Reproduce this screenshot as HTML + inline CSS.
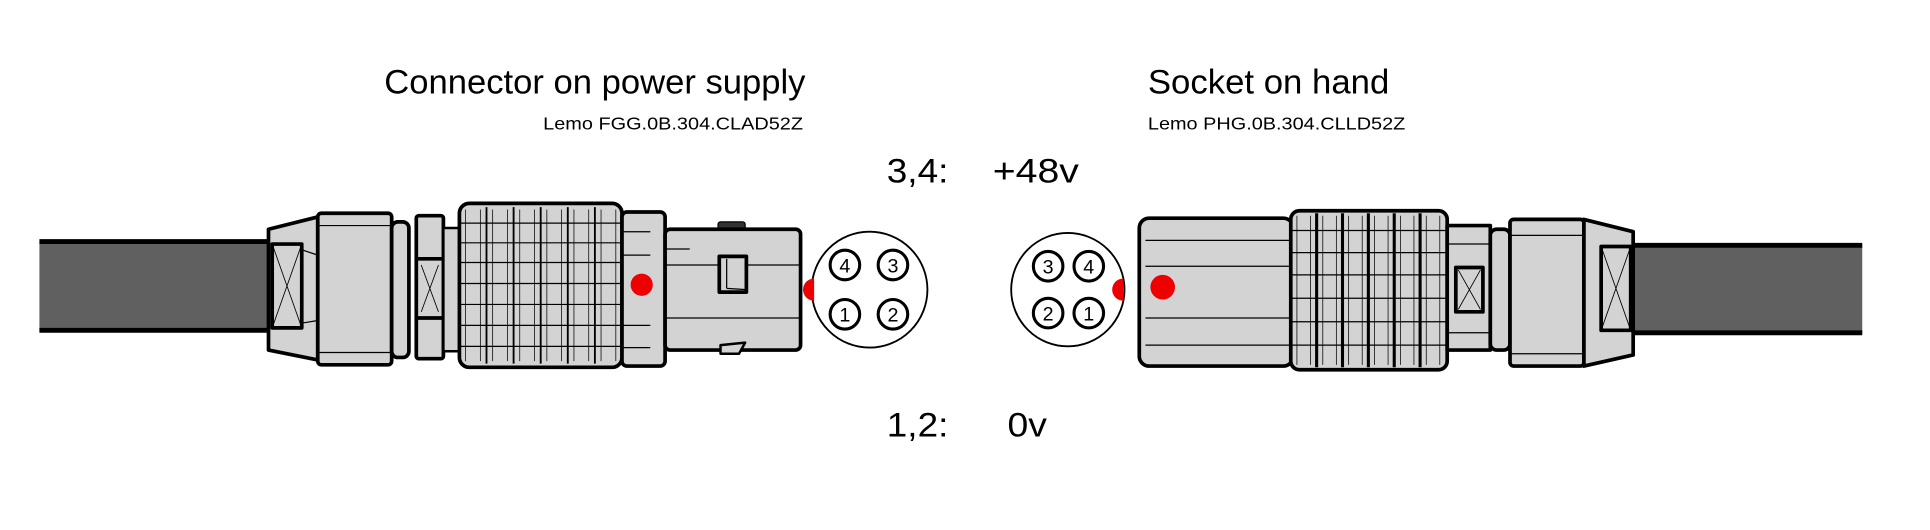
<!DOCTYPE html>
<html><head><meta charset="utf-8"><style>
html,body{margin:0;padding:0;background:#fff;}
svg{display:block;}
text{font-family:"Liberation Sans",sans-serif;fill:#000;}
</style></head><body>
<svg width="1930" height="530" viewBox="0 0 1567 430" preserveAspectRatio="none">
<g>
<text x="312" y="76" font-size="28" textLength="342" lengthAdjust="spacingAndGlyphs">Connector on power supply</text>
<text x="441" y="105" font-size="14" textLength="211" lengthAdjust="spacingAndGlyphs">Lemo FGG.0B.304.CLAD52Z</text>
<text x="932" y="76" font-size="28" textLength="196" lengthAdjust="spacingAndGlyphs">Socket on hand</text>
<text x="932" y="105" font-size="14" textLength="209" lengthAdjust="spacingAndGlyphs">Lemo PHG.0B.304.CLLD52Z</text>
<text x="720" y="148" font-size="28" textLength="50" lengthAdjust="spacingAndGlyphs">3,4:</text>
<text x="806" y="148" font-size="28" textLength="70" lengthAdjust="spacingAndGlyphs">+48v</text>
<text x="720" y="354" font-size="28" textLength="50" lengthAdjust="spacingAndGlyphs">1,2:</text>
<text x="818" y="354" font-size="28" textLength="32" lengthAdjust="spacingAndGlyphs">0v</text>
</g>

<g stroke="#000" stroke-linejoin="round">
<rect x="32" y="196" width="190" height="72" fill="#606060" stroke="none"/>
<line x1="32" y1="196" x2="222" y2="196" stroke-width="4"/>
<line x1="32" y1="268" x2="222" y2="268" stroke-width="4"/>
<path d="M218 186 L258 176 L258 292 L218 284 Z" fill="#d3d3d3" stroke-width="3"/>
<rect x="221" y="198" width="24" height="68" fill="#d3d3d3" stroke-width="3"/>
<path d="M221 198 L245 266 M245 198 L221 266" stroke-width="0.7"/>
<rect x="258" y="173" width="60" height="123" rx="3" fill="#d3d3d3" stroke-width="3"/>
<path d="M258 183 H318 M258 286 H318 M246 203 L258 207 M246 262 L258 260" stroke-width="1"/>
<rect x="318" y="180" width="14" height="110" rx="5" fill="#d3d3d3" stroke-width="3"/>
<rect x="338" y="175" width="22" height="116" rx="2" fill="#d3d3d3" stroke-width="3"/>
<path d="M338 210 H360 M338 258 H360" stroke-width="3"/>
<path d="M342 215 L356 253 M356 215 L342 253" stroke-width="0.7"/>
<rect x="360" y="185" width="14" height="100" fill="#d3d3d3" stroke-width="2"/>
<g>
<rect x="373" y="165" width="132" height="133" rx="8" fill="#d3d3d3" stroke-width="3"/>
<path d="M395 168 V295 M417 168 V295 M439 168 V295 M461 168 V295 M483 168 V295" stroke-width="1.5"/>
<path d="M373 181 H505 M373 197 H505 M373 213 H505 M373 230 H505 M373 247 H505 M373 264 H505 M373 281 H505" stroke-width="1"/>
<path d="M378 170 V293 M390 170 V293 M400 170 V293 M412 170 V293 M422 170 V293 M434 170 V293 M444 170 V293 M456 170 V293 M466 170 V293 M478 170 V293 M488 170 V293 M500 170 V293" stroke-width="0.6"/>
</g>
<rect x="505" y="172" width="35" height="125" rx="4" fill="#d3d3d3" stroke-width="3"/>
<path d="M505 188 H528 M505 207 H528 M505 264 H528 M505 282 H528" stroke-width="1"/>
<circle cx="521" cy="231" r="9" fill="#e00" stroke="none"/>
<rect x="583" y="180" width="22" height="8" rx="2" fill="#333" stroke-width="1"/>
<rect x="540" y="186" width="110" height="98" rx="4" fill="#d3d3d3" stroke-width="3"/>
<path d="M540 215 H650 M540 258 H650 M540 202 H560" stroke-width="1"/>
<rect x="584" y="208" width="22" height="29" fill="#d3d3d3" stroke-width="3"/>
<path d="M590 210 V234 M590 234 L606 235" stroke-width="1"/>
<path d="M585 280 L605 278 L600 287 L585 287 Z" fill="#d3d3d3" stroke-width="2"/>
</g>

<g stroke="#000">
<circle cx="706" cy="235" r="47" fill="#fff" stroke-width="1.5"/>
<path d="M661 226 A9 9 0 0 0 661 244 Z" fill="#e00" stroke="none"/>
<circle cx="686" cy="215" r="12" fill="#fff" stroke-width="2.5"/>
<circle cx="725" cy="215" r="12" fill="#fff" stroke-width="2.5"/>
<circle cx="686" cy="255" r="12" fill="#fff" stroke-width="2.5"/>
<circle cx="725" cy="255" r="12" fill="#fff" stroke-width="2.5"/>
<g stroke="none" font-size="16" text-anchor="middle">
<text x="686" y="221">4</text><text x="725" y="221">3</text><text x="686" y="261">1</text><text x="725" y="261">2</text>
</g>
</g>

<g stroke="#000">
<circle cx="867" cy="235" r="46" fill="#fff" stroke-width="1.5"/>
<path d="M912 226 A9 9 0 0 0 912 244 Z" fill="#e00" stroke="none"/>
<circle cx="851" cy="216" r="12" fill="#fff" stroke-width="2.5"/>
<circle cx="884" cy="216" r="12" fill="#fff" stroke-width="2.5"/>
<circle cx="851" cy="254" r="12" fill="#fff" stroke-width="2.5"/>
<circle cx="884" cy="254" r="12" fill="#fff" stroke-width="2.5"/>
<g stroke="none" font-size="16" text-anchor="middle">
<text x="851" y="222">3</text><text x="884" y="222">4</text><text x="851" y="260">2</text><text x="884" y="260">1</text>
</g>
</g>

<g stroke="#000" stroke-linejoin="round">
<rect x="1326" y="199" width="186" height="71" fill="#606060" stroke="none"/>
<line x1="1326" y1="199" x2="1512" y2="199" stroke-width="4"/>
<line x1="1326" y1="270" x2="1512" y2="270" stroke-width="4"/>
<rect x="925" y="177" width="125" height="120" rx="8" fill="#d3d3d3" stroke-width="3"/>
<path d="M930 195 H1048 M930 216 H1048 M930 258 H1048 M930 280 H1048" stroke-width="1"/>
<circle cx="944" cy="233" r="10" fill="#e00" stroke="none"/>
<g>
<rect x="1048" y="171" width="127" height="129" rx="7" fill="#d3d3d3" stroke-width="3"/>
<path d="M1069 173 V298 M1090 173 V298 M1111 173 V298 M1132 173 V298 M1153 173 V298" stroke-width="2.5"/>
<path d="M1048 187 H1175 M1048 205 H1175 M1048 223 H1175 M1048 242 H1175 M1048 261 H1175 M1048 280 H1175" stroke-width="1"/>
<path d="M1053 175 V296 M1064 175 V296 M1074 175 V296 M1085 175 V296 M1095 175 V296 M1106 175 V296 M1116 175 V296 M1127 175 V296 M1137 175 V296 M1148 175 V296 M1158 175 V296 M1169 175 V296" stroke-width="0.6"/>
</g>
<rect x="1175" y="183" width="35" height="101" fill="#d3d3d3" stroke-width="3"/>
<rect x="1182" y="217" width="22" height="36" fill="#d3d3d3" stroke-width="3"/>
<path d="M1184 219 L1202 251 M1202 219 L1184 251" stroke-width="0.7"/>
<path d="M1175 198 H1210 M1175 270 H1210" stroke-width="1"/>
<rect x="1210" y="186" width="16" height="98" rx="5" fill="#d3d3d3" stroke-width="3"/>
<rect x="1226" y="178" width="60" height="119" rx="3" fill="#d3d3d3" stroke-width="3"/>
<path d="M1226 191 H1286 M1226 287 H1286" stroke-width="1"/>
<path d="M1286 178 L1326 188 L1326 288 L1286 297 Z" fill="#d3d3d3" stroke-width="3"/>
<rect x="1300" y="200" width="24" height="68" fill="#d3d3d3" stroke-width="3"/>
<path d="M1300 200 L1324 268 M1324 200 L1300 268" stroke-width="0.7"/>
</g>
</svg>
</body></html>
